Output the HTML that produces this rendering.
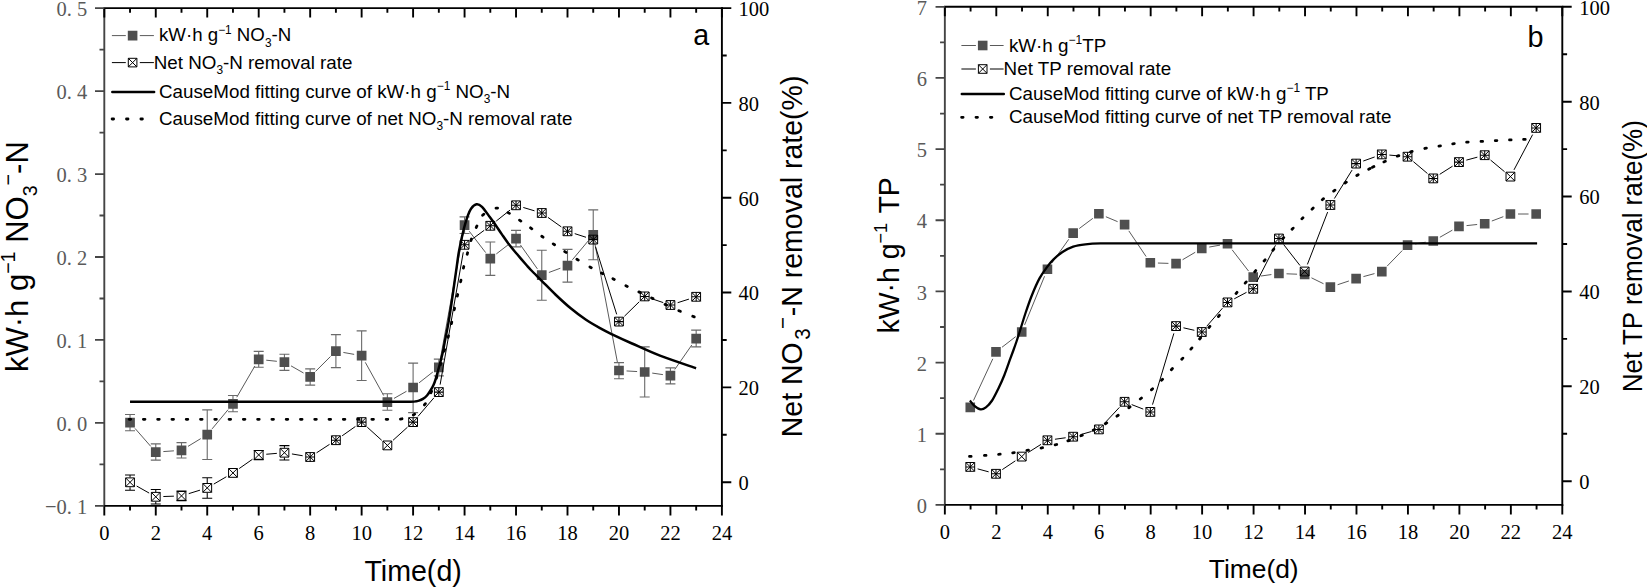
<!DOCTYPE html>
<html lang="en">
<head>
<meta charset="utf-8">
<title>CauseMod fitting curves</title>
<style>
html,body{margin:0;padding:0;background:#fff;}
body{width:1647px;height:588px;overflow:hidden;}
svg text{white-space:pre;}
</style>
</head>
<body>
<svg width="1647" height="588" viewBox="0 0 1647 588" style="display:block">
<rect x="0" y="0" width="1647" height="588" fill="#fff"/>
<g id="panel-a">
<path d="M103.4,8.1 H722.85" stroke="#000" stroke-width="1.9" fill="none"/>
<path d="M103.4,505.9 H722.85" stroke="#000" stroke-width="1.9" fill="none"/>
<path d="M721.9,7.2 V506.8" stroke="#000" stroke-width="1.9" fill="none"/>
<path d="M104.3,9 V505" stroke="#454545" stroke-width="1.9" fill="none"/>
<path d="M104.3,505.9 v9.5 M104.3,8.1 v9.5 M130.03,505.9 v4.6 M130.03,8.1 v4.6 M155.77,505.9 v9.5 M155.77,8.1 v9.5 M181.5,505.9 v4.6 M181.5,8.1 v4.6 M207.23,505.9 v9.5 M207.23,8.1 v9.5 M232.97,505.9 v4.6 M232.97,8.1 v4.6 M258.7,505.9 v9.5 M258.7,8.1 v9.5 M284.43,505.9 v4.6 M284.43,8.1 v4.6 M310.17,505.9 v9.5 M310.17,8.1 v9.5 M335.9,505.9 v4.6 M335.9,8.1 v4.6 M361.63,505.9 v9.5 M361.63,8.1 v9.5 M387.37,505.9 v4.6 M387.37,8.1 v4.6 M413.1,505.9 v9.5 M413.1,8.1 v9.5 M438.83,505.9 v4.6 M438.83,8.1 v4.6 M464.57,505.9 v9.5 M464.57,8.1 v9.5 M490.3,505.9 v4.6 M490.3,8.1 v4.6 M516.03,505.9 v9.5 M516.03,8.1 v9.5 M541.77,505.9 v4.6 M541.77,8.1 v4.6 M567.5,505.9 v9.5 M567.5,8.1 v9.5 M593.23,505.9 v4.6 M593.23,8.1 v4.6 M618.97,505.9 v9.5 M618.97,8.1 v9.5 M644.7,505.9 v4.6 M644.7,8.1 v4.6 M670.43,505.9 v9.5 M670.43,8.1 v9.5 M696.17,505.9 v4.6 M696.17,8.1 v4.6 M721.9,505.9 v9.5 M721.9,8.1 v9.5" stroke="#000" stroke-width="1.9" fill="none"/>
<text x="104.3" y="540.5" font-family='"Liberation Serif", "Times New Roman", serif' font-size="20.5" fill="#000" text-anchor="middle" transform="translate(0,540.5) scale(1,1.07) translate(0,-540.5)">0</text>
<text x="155.77" y="540.5" font-family='"Liberation Serif", "Times New Roman", serif' font-size="20.5" fill="#000" text-anchor="middle" transform="translate(0,540.5) scale(1,1.07) translate(0,-540.5)">2</text>
<text x="207.23" y="540.5" font-family='"Liberation Serif", "Times New Roman", serif' font-size="20.5" fill="#000" text-anchor="middle" transform="translate(0,540.5) scale(1,1.07) translate(0,-540.5)">4</text>
<text x="258.7" y="540.5" font-family='"Liberation Serif", "Times New Roman", serif' font-size="20.5" fill="#000" text-anchor="middle" transform="translate(0,540.5) scale(1,1.07) translate(0,-540.5)">6</text>
<text x="310.17" y="540.5" font-family='"Liberation Serif", "Times New Roman", serif' font-size="20.5" fill="#000" text-anchor="middle" transform="translate(0,540.5) scale(1,1.07) translate(0,-540.5)">8</text>
<text x="361.63" y="540.5" font-family='"Liberation Serif", "Times New Roman", serif' font-size="20.5" fill="#000" text-anchor="middle" transform="translate(0,540.5) scale(1,1.07) translate(0,-540.5)">10</text>
<text x="413.1" y="540.5" font-family='"Liberation Serif", "Times New Roman", serif' font-size="20.5" fill="#000" text-anchor="middle" transform="translate(0,540.5) scale(1,1.07) translate(0,-540.5)">12</text>
<text x="464.57" y="540.5" font-family='"Liberation Serif", "Times New Roman", serif' font-size="20.5" fill="#000" text-anchor="middle" transform="translate(0,540.5) scale(1,1.07) translate(0,-540.5)">14</text>
<text x="516.03" y="540.5" font-family='"Liberation Serif", "Times New Roman", serif' font-size="20.5" fill="#000" text-anchor="middle" transform="translate(0,540.5) scale(1,1.07) translate(0,-540.5)">16</text>
<text x="567.5" y="540.5" font-family='"Liberation Serif", "Times New Roman", serif' font-size="20.5" fill="#000" text-anchor="middle" transform="translate(0,540.5) scale(1,1.07) translate(0,-540.5)">18</text>
<text x="618.97" y="540.5" font-family='"Liberation Serif", "Times New Roman", serif' font-size="20.5" fill="#000" text-anchor="middle" transform="translate(0,540.5) scale(1,1.07) translate(0,-540.5)">20</text>
<text x="670.43" y="540.5" font-family='"Liberation Serif", "Times New Roman", serif' font-size="20.5" fill="#000" text-anchor="middle" transform="translate(0,540.5) scale(1,1.07) translate(0,-540.5)">22</text>
<text x="721.9" y="540.5" font-family='"Liberation Serif", "Times New Roman", serif' font-size="20.5" fill="#000" text-anchor="middle" transform="translate(0,540.5) scale(1,1.07) translate(0,-540.5)">24</text>
<path d="M104.3,505.9 h-9.3 M104.3,422.93 h-9.3 M104.3,339.97 h-9.3 M104.3,257 h-9.3 M104.3,174.03 h-9.3 M104.3,91.07 h-9.3 M104.3,8.1 h-9.3 M104.3,464.42 h-4.8 M104.3,381.45 h-4.8 M104.3,298.48 h-4.8 M104.3,215.52 h-4.8 M104.3,132.55 h-4.8 M104.3,49.58 h-4.8" stroke="#454545" stroke-width="1.8" fill="none"/>
<text x="87.2" y="514" font-family='"Liberation Serif", "Times New Roman", serif' font-size="20.5" fill="#5a5a5a" text-anchor="end" dx="0 0 0 5.125" transform="translate(0,514) scale(1,1.07) translate(0,-514)">−0.1</text>
<text x="87.2" y="431.03" font-family='"Liberation Serif", "Times New Roman", serif' font-size="20.5" fill="#5a5a5a" text-anchor="end" dx="0 0 5.125" transform="translate(0,431.03) scale(1,1.07) translate(0,-431.03)">0.0</text>
<text x="87.2" y="348.07" font-family='"Liberation Serif", "Times New Roman", serif' font-size="20.5" fill="#5a5a5a" text-anchor="end" dx="0 0 5.125" transform="translate(0,348.07) scale(1,1.07) translate(0,-348.07)">0.1</text>
<text x="87.2" y="265.1" font-family='"Liberation Serif", "Times New Roman", serif' font-size="20.5" fill="#5a5a5a" text-anchor="end" dx="0 0 5.125" transform="translate(0,265.1) scale(1,1.07) translate(0,-265.1)">0.2</text>
<text x="87.2" y="182.13" font-family='"Liberation Serif", "Times New Roman", serif' font-size="20.5" fill="#5a5a5a" text-anchor="end" dx="0 0 5.125" transform="translate(0,182.13) scale(1,1.07) translate(0,-182.13)">0.3</text>
<text x="87.2" y="99.17" font-family='"Liberation Serif", "Times New Roman", serif' font-size="20.5" fill="#5a5a5a" text-anchor="end" dx="0 0 5.125" transform="translate(0,99.17) scale(1,1.07) translate(0,-99.17)">0.4</text>
<text x="87.2" y="16.2" font-family='"Liberation Serif", "Times New Roman", serif' font-size="20.5" fill="#5a5a5a" text-anchor="end" dx="0 0 5.125" transform="translate(0,16.2) scale(1,1.07) translate(0,-16.2)">0.5</text>
<path d="M721.9,482.2 h9.4 M721.9,434.79 h4.8 M721.9,387.38 h9.4 M721.9,339.97 h4.8 M721.9,292.56 h9.4 M721.9,245.15 h4.8 M721.9,197.74 h9.4 M721.9,150.33 h4.8 M721.9,102.92 h9.4 M721.9,55.51 h4.8 M721.9,8.1 h9.4" stroke="#000" stroke-width="1.9" fill="none"/>
<text x="738.6" y="490.1" font-family='"Liberation Serif", "Times New Roman", serif' font-size="20.5" fill="#000" text-anchor="start" transform="translate(0,490.1) scale(1,1.07) translate(0,-490.1)">0</text>
<text x="738.6" y="395.28" font-family='"Liberation Serif", "Times New Roman", serif' font-size="20.5" fill="#000" text-anchor="start" transform="translate(0,395.28) scale(1,1.07) translate(0,-395.28)">20</text>
<text x="738.6" y="300.46" font-family='"Liberation Serif", "Times New Roman", serif' font-size="20.5" fill="#000" text-anchor="start" transform="translate(0,300.46) scale(1,1.07) translate(0,-300.46)">40</text>
<text x="738.6" y="205.64" font-family='"Liberation Serif", "Times New Roman", serif' font-size="20.5" fill="#000" text-anchor="start" transform="translate(0,205.64) scale(1,1.07) translate(0,-205.64)">60</text>
<text x="738.6" y="110.82" font-family='"Liberation Serif", "Times New Roman", serif' font-size="20.5" fill="#000" text-anchor="start" transform="translate(0,110.82) scale(1,1.07) translate(0,-110.82)">80</text>
<text x="738.6" y="16" font-family='"Liberation Serif", "Times New Roman", serif' font-size="20.5" fill="#000" text-anchor="start" transform="translate(0,16) scale(1,1.07) translate(0,-16)">100</text>
<path d="M135.04,428.42 L150.76,446.38 M163.35,451.57 L173.92,450.83 M188,446.36 L200.73,438.64 M212.1,428.86 L228.1,409.64 M236.78,397.22 L254.89,365.98 M266.26,360.19 L276.87,361.31 M291.03,365.87 L303.57,373.03 M315.54,371.43 L330.52,356.47 M343.38,352.44 L354.15,354.36 M365.31,362.35 L383.69,395.55 M393.97,398.43 L406.5,391.27 M419.08,382.81 L432.86,371.99 M440.19,359.82 L463.21,232.68 M469.21,231.22 L485.66,252.58 M496.31,253.95 L510.02,243.35 M520.42,244.91 L537.38,268.89 M548.9,272.47 L560.37,268.23 M572.38,259.78 L588.35,240.72 M594.65,242.37 L617.55,363.03 M626.55,370.94 L637.11,371.56 M652.22,373.08 L662.91,374.62 M674.77,369.46 L691.83,344.94" fill="none" stroke="#5a5a5a" stroke-width="1.0"/>
<path d="M130.03,414.5 V430.7 M125.03,414.5 H135.03 M125.03,430.7 H135.03 M155.77,443.9 V460.1 M150.77,443.9 H160.77 M150.77,460.1 H160.77 M181.5,442.6 V458 M176.5,442.6 H186.5 M176.5,458 H186.5 M207.23,409.9 V459.5 M202.23,409.9 H212.23 M202.23,459.5 H212.23 M232.97,395.5 V411.7 M227.97,395.5 H237.97 M227.97,411.7 H237.97 M258.7,351.4 V367.3 M253.7,351.4 H263.7 M253.7,367.3 H263.7 M284.43,354.2 V370.4 M279.43,354.2 H289.43 M279.43,370.4 H289.43 M310.17,368.9 V385.1 M305.17,368.9 H315.17 M305.17,385.1 H315.17 M335.9,334.6 V367.6 M330.9,334.6 H340.9 M330.9,367.6 H340.9 M361.63,330.9 V380.5 M356.63,330.9 H366.63 M356.63,380.5 H366.63 M387.37,393.7 V410.2 M382.37,393.7 H392.37 M382.37,410.2 H392.37 M413.1,363.1 V412.6 M408.1,363.1 H418.1 M408.1,412.6 H418.1 M438.83,359.1 V375.9 M433.83,359.1 H443.83 M433.83,375.9 H443.83 M464.57,216.9 V233.5 M459.57,216.9 H469.57 M459.57,233.5 H469.57 M490.3,242 V275.4 M485.3,242 H495.3 M485.3,275.4 H495.3 M516.03,230.4 V246.9 M511.03,230.4 H521.03 M511.03,246.9 H521.03 M541.77,250.3 V300.2 M536.77,250.3 H546.77 M536.77,300.2 H546.77 M567.5,249.4 V282.1 M562.5,249.4 H572.5 M562.5,282.1 H572.5 M593.23,209.9 V259.8 M588.23,209.9 H598.23 M588.23,259.8 H598.23 M618.97,362.6 V378.7 M613.97,362.6 H623.97 M613.97,378.7 H623.97 M644.7,346.9 V397 M639.7,346.9 H649.7 M639.7,397 H649.7 M670.43,367.9 V383.9 M665.43,367.9 H675.43 M665.43,383.9 H675.43 M696.17,330.1 V346.9 M691.17,330.1 H701.17 M691.17,346.9 H701.17" fill="none" stroke="#6a6a6a" stroke-width="1.1"/>
<path d="M125.18,417.85 h9.7 v9.7 h-9.7 z M150.92,447.25 h9.7 v9.7 h-9.7 z M176.65,445.45 h9.7 v9.7 h-9.7 z M202.38,429.85 h9.7 v9.7 h-9.7 z M228.12,398.95 h9.7 v9.7 h-9.7 z M253.85,354.55 h9.7 v9.7 h-9.7 z M279.58,357.25 h9.7 v9.7 h-9.7 z M305.32,371.95 h9.7 v9.7 h-9.7 z M331.05,346.25 h9.7 v9.7 h-9.7 z M356.78,350.85 h9.7 v9.7 h-9.7 z M382.52,397.35 h9.7 v9.7 h-9.7 z M408.25,382.65 h9.7 v9.7 h-9.7 z M433.98,362.45 h9.7 v9.7 h-9.7 z M459.72,220.35 h9.7 v9.7 h-9.7 z M485.45,253.75 h9.7 v9.7 h-9.7 z M511.18,233.85 h9.7 v9.7 h-9.7 z M536.92,270.25 h9.7 v9.7 h-9.7 z M562.65,260.75 h9.7 v9.7 h-9.7 z M588.38,230.05 h9.7 v9.7 h-9.7 z M614.12,365.65 h9.7 v9.7 h-9.7 z M639.85,367.15 h9.7 v9.7 h-9.7 z M665.58,370.85 h9.7 v9.7 h-9.7 z M691.32,333.85 h9.7 v9.7 h-9.7 z" fill="#4f4f4f" stroke="none"/>
<path d="M136.65,486.03 L149.15,493.07 M163.36,496.53 L173.9,496.17 M188.76,493.64 L199.98,490.16 M213.8,484.07 L226.4,476.73 M239.19,468.54 L252.47,459.26 M266.27,454.25 L276.86,453.35 M291.93,453.95 L302.67,455.75 M316.53,452.85 L329.54,444.35 M342.12,435.83 L355.42,426.47 M367.27,427.2 L381.73,440.3 M393,440.3 L407.47,427.2 M418.05,416.33 L433.89,397.87 M440.14,384.61 L463.26,252.29 M470.68,240.29 L484.19,230.31 M496.24,221.06 L510.09,210.04 M523.31,207.48 L534.49,210.82 M547.96,217.4 L561.31,226.9 M574.73,233.63 L586,237.27 M595.51,246.85 L616.69,314.35 M624.4,316.28 L639.27,301.72 M651.91,298.81 L663.23,302.59 M677.67,302.69 L688.93,299.11" fill="none" stroke="#000" stroke-width="1.0"/>
<path d="M130.03,475 V477.4 M130.03,487.2 V490.2 M125.03,475 H135.03 M125.03,490.2 H135.03 M155.77,489.5 V491.9 M155.77,501.7 V503.9 M150.77,489.5 H160.77 M150.77,503.9 H160.77 M176.5,491 H186.5 M176.5,500.6 H186.5 M207.23,477.8 V483 M207.23,492.8 V498.2 M202.23,477.8 H212.23 M202.23,498.2 H212.23 M253.7,450.4 H263.7 M253.7,459.6 H263.7 M284.43,445.6 V447.8 M284.43,457.6 V460 M279.43,445.6 H289.43 M279.43,460 H289.43" fill="none" stroke="#000" stroke-width="1.05"/>
<path d="M125.63,477.9 h8.8 v8.8 h-8.8 z M151.37,492.4 h8.8 v8.8 h-8.8 z M177.1,491.5 h8.8 v8.8 h-8.8 z M202.83,483.5 h8.8 v8.8 h-8.8 z M228.57,468.5 h8.8 v8.8 h-8.8 z M254.3,450.5 h8.8 v8.8 h-8.8 z M280.03,448.3 h8.8 v8.8 h-8.8 z M305.77,452.6 h8.8 v8.8 h-8.8 z M331.5,435.8 h8.8 v8.8 h-8.8 z M357.23,417.7 h8.8 v8.8 h-8.8 z M382.97,441 h8.8 v8.8 h-8.8 z M408.7,417.7 h8.8 v8.8 h-8.8 z M434.43,387.7 h8.8 v8.8 h-8.8 z M460.17,240.4 h8.8 v8.8 h-8.8 z M485.9,221.4 h8.8 v8.8 h-8.8 z M511.63,200.9 h8.8 v8.8 h-8.8 z M537.37,208.6 h8.8 v8.8 h-8.8 z M563.1,226.9 h8.8 v8.8 h-8.8 z M588.83,235.2 h8.8 v8.8 h-8.8 z M614.57,317.2 h8.8 v8.8 h-8.8 z M640.3,292 h8.8 v8.8 h-8.8 z M666.03,300.6 h8.8 v8.8 h-8.8 z M691.77,292.4 h8.8 v8.8 h-8.8 z" fill="none" stroke="#000" stroke-width="1"/>
<path d="M125.63,477.9 L134.43,486.7 M125.63,486.7 L134.43,477.9 M151.37,492.4 L160.17,501.2 M151.37,501.2 L160.17,492.4 M177.1,491.5 L185.9,500.3 M177.1,500.3 L185.9,491.5 M202.83,483.5 L211.63,492.3 M202.83,492.3 L211.63,483.5 M228.57,468.5 L237.37,477.3 M228.57,477.3 L237.37,468.5 M254.3,450.5 L263.1,459.3 M254.3,459.3 L263.1,450.5 M280.03,448.3 L288.83,457.1 M280.03,457.1 L288.83,448.3 M305.77,452.6 L314.57,461.4 M305.77,461.4 L314.57,452.6 M331.5,435.8 L340.3,444.6 M331.5,444.6 L340.3,435.8 M357.23,417.7 L366.03,426.5 M357.23,426.5 L366.03,417.7 M382.97,441 L391.77,449.8 M382.97,449.8 L391.77,441 M408.7,417.7 L417.5,426.5 M408.7,426.5 L417.5,417.7 M434.43,387.7 L443.23,396.5 M434.43,396.5 L443.23,387.7 M460.17,240.4 L468.97,249.2 M460.17,249.2 L468.97,240.4 M485.9,221.4 L494.7,230.2 M485.9,230.2 L494.7,221.4 M511.63,200.9 L520.43,209.7 M511.63,209.7 L520.43,200.9 M537.37,208.6 L546.17,217.4 M537.37,217.4 L546.17,208.6 M563.1,226.9 L571.9,235.7 M563.1,235.7 L571.9,226.9 M588.83,235.2 L597.63,244 M588.83,244 L597.63,235.2 M614.57,317.2 L623.37,326 M614.57,326 L623.37,317.2 M640.3,292 L649.1,300.8 M640.3,300.8 L649.1,292 M666.03,300.6 L674.83,309.4 M666.03,309.4 L674.83,300.6 M691.77,292.4 L700.57,301.2 M691.77,301.2 L700.57,292.4" fill="none" stroke="#000" stroke-width="1"/>
<path d="M305.77,457 H314.57 M310.17,452.6 V461.4 M331.5,440.2 H340.3 M335.9,435.8 V444.6 M357.23,422.1 H366.03 M361.63,417.7 V426.5 M408.7,422.1 H417.5 M413.1,417.7 V426.5 M434.43,392.1 H443.23 M438.83,387.7 V396.5 M460.17,244.8 H468.97 M464.57,240.4 V249.2 M485.9,225.8 H494.7 M490.3,221.4 V230.2 M511.63,205.3 H520.43 M516.03,200.9 V209.7 M537.37,213 H546.17 M541.77,208.6 V217.4 M563.1,231.3 H571.9 M567.5,226.9 V235.7 M588.83,239.6 H597.63 M593.23,235.2 V244 M614.57,321.6 H623.37 M618.97,317.2 V326 M640.3,296.4 H649.1 M644.7,292 V300.8 M666.03,305 H674.83 M670.43,300.6 V309.4 M691.77,296.8 H700.57 M696.17,292.4 V301.2" fill="none" stroke="#000" stroke-width="1.05"/>
<path d="M129.1,419.3 L130.7,419.3 M143.38,419.3 L144.98,419.3 M157.66,419.3 L159.26,419.3 M171.94,419.3 L173.54,419.3 M186.22,419.3 L187.82,419.3 M200.5,419.3 L202.1,419.3 M214.78,419.3 L216.38,419.3 M229.06,419.3 L230.66,419.3 M243.34,419.3 L244.94,419.3 M257.62,419.3 L259.22,419.3 M271.9,419.3 L273.5,419.3 M286.18,419.3 L287.78,419.3 M300.46,419.3 L302.06,419.3 M314.74,419.3 L316.34,419.3 M329.02,419.3 L330.62,419.3 M343.3,419.3 L344.9,419.3 M357.58,419.3 L359.18,419.3 M371.86,419.3 L373.46,419.3 M386.14,419.31 L387.74,419.29 M400.41,419.04 L401.99,418.76 M413.32,415.02 L414.68,414.18 M424.41,404.94 L425.39,403.66 M430.98,392.73 L431.62,391.27 M436.35,378.26 L436.85,376.74 M440.38,364.77 L440.82,363.23 M444.18,351.17 L444.62,349.63 M448.1,337.37 L448.5,335.83 M451.43,323.58 L451.77,322.02 M454.23,309.78 L454.57,308.22 M457.32,296.08 L457.68,294.52 M460.63,281.78 L460.97,280.22 M463.41,268.08 L463.79,266.52 M467.19,254.27 L467.61,252.73 M470.94,240.56 L471.46,239.04 M476.25,227.42 L476.95,225.98 M482.61,215.34 L483.79,214.26 M496,208.16 L497.6,208.04 M507.99,212.62 L509.41,213.38 M519.54,220.15 L520.86,221.05 M530.55,227.83 L531.85,228.77 M541.75,236.24 L543.05,237.16 M553.23,243.86 L554.57,244.74 M564.73,251.56 L566.07,252.44 M576.92,259.28 L578.28,260.12 M589.9,266.91 L591.3,267.69 M601.39,273.03 L602.81,273.77 M612.89,278.73 L614.31,279.47 M625.89,285.74 L627.31,286.46 M638.88,291.86 L640.32,292.54 M651.58,297.96 L653.02,298.64 M665.07,304.36 L666.53,305.04 M678.86,310.68 L680.34,311.32 M692.76,316.3 L694.24,316.9" fill="none" stroke="#000" stroke-width="2.8" stroke-linecap="round"/>
<path d="M130.03,401.7 C150.03,401.7 208.34,401.7 250,401.7 C291.66,401.7 353.23,401.7 380,401.7 C406.77,401.7 404.73,401.75 410.6,401.7 C416.47,401.65 413.8,401.58 415.2,401.4 C416.6,401.22 417.72,401.02 419,400.6 C420.28,400.18 421.57,399.75 422.9,398.9 C424.23,398.05 425.73,396.9 427,395.5 C428.27,394.1 429.42,392.25 430.5,390.5 C431.58,388.75 432.6,387.03 433.5,385 C434.4,382.97 434.87,381.72 435.9,378.3 C436.93,374.88 438.55,368.85 439.7,364.5 C440.85,360.15 441.9,356.28 442.8,352.2 C443.7,348.12 444.18,344.77 445.1,340 C446.02,335.23 447.25,329.6 448.3,323.6 C449.35,317.6 450.38,310.77 451.4,304 C452.42,297.23 453.52,289.17 454.4,283 C455.28,276.83 455.93,272.3 456.7,267 C457.47,261.7 457.85,257.4 459,251.2 C460.15,245 462.2,235.53 463.6,229.8 C465,224.07 466.13,220.37 467.4,216.8 C468.67,213.23 469.67,210.5 471.2,208.4 C472.73,206.3 474.8,204.47 476.6,204.2 C478.4,203.93 479.83,204.7 482,206.8 C484.17,208.9 487.32,213.73 489.6,216.8 C491.88,219.87 493.65,222.27 495.7,225.2 C497.75,228.13 499.6,231.08 501.9,234.4 C504.2,237.72 506.95,241.78 509.5,245.1 C512.05,248.42 514.38,250.98 517.2,254.3 C520.02,257.62 524.12,262.38 526.4,265 C528.68,267.62 528.35,267.37 530.9,270 C533.45,272.63 537.62,276.72 541.7,280.8 C545.78,284.88 550.57,289.92 555.4,294.5 C560.23,299.08 565.6,304.08 570.7,308.3 C575.8,312.52 580.88,316.37 586,319.8 C591.12,323.23 597.05,326.48 601.4,328.9 C605.75,331.32 607,331.87 612.1,334.3 C617.2,336.73 624.02,339.93 632,343.5 C639.98,347.07 649.32,351.58 660,355.7 C670.68,359.82 690.08,366.12 696.1,368.2" fill="none" stroke="#000" stroke-width="2.5" stroke-linejoin="round"/>
<path d="M111.9,35.6 H125.8 M139.8,35.6 H153.9" stroke="#5a5a5a" stroke-width="1" fill="none"/>
<path d="M127.8,30.8 h9.6 v9.6 h-9.6 z" fill="#4f4f4f" stroke="none"/>
<path d="M111.9,62.6 H125.8 M139.8,62.6 H153.9" stroke="#000" stroke-width="1" fill="none"/>
<path d="M128.3,58.3 h8.6 v8.6 h-8.6 z" fill="none" stroke="#000" stroke-width="1"/>
<path d="M128.3,58.3 L136.9,66.9 M128.3,66.9 L136.9,58.3" fill="none" stroke="#000" stroke-width="1"/>
<path d="M112.3,92 H154.1" stroke="#000" stroke-width="2.5" stroke-linecap="round" fill="none"/>
<path d="M112.1,119 h1.5 M126.5,119 h1.5 M140.9,119 h1.5" stroke="#000" stroke-width="2.8" stroke-linecap="round" fill="none"/>
<text x="159" y="41.4" font-family='"Liberation Sans", Arial, Helvetica, sans-serif' font-size="18.9" fill="#000" text-anchor="start" textLength="132.2" lengthAdjust="spacingAndGlyphs">kW·h g<tspan font-size="12" dy="-7.75">−1</tspan><tspan font-size="18.9" dy="7.75">&#8203;</tspan> NO<tspan font-size="12" dy="5.29">3</tspan><tspan font-size="18.9" dy="-5.29">&#8203;</tspan>-N</text>
<text x="153.8" y="68.7" font-family='"Liberation Sans", Arial, Helvetica, sans-serif' font-size="18.9" fill="#000" text-anchor="start" textLength="198.6" lengthAdjust="spacingAndGlyphs">Net NO<tspan font-size="12" dy="5.29">3</tspan><tspan font-size="18.9" dy="-5.29">&#8203;</tspan>-N removal rate</text>
<text x="159" y="98" font-family='"Liberation Sans", Arial, Helvetica, sans-serif' font-size="18.9" fill="#000" text-anchor="start" textLength="351.2" lengthAdjust="spacingAndGlyphs">CauseMod fitting curve of kW·h g<tspan font-size="12" dy="-7.75">−1</tspan><tspan font-size="18.9" dy="7.75">&#8203;</tspan> NO<tspan font-size="12" dy="5.29">3</tspan><tspan font-size="18.9" dy="-5.29">&#8203;</tspan>-N</text>
<text x="159" y="124.7" font-family='"Liberation Sans", Arial, Helvetica, sans-serif' font-size="18.9" fill="#000" text-anchor="start" textLength="413.4" lengthAdjust="spacingAndGlyphs">CauseMod fitting curve of net NO<tspan font-size="12" dy="5.29">3</tspan><tspan font-size="18.9" dy="-5.29">&#8203;</tspan>-N removal rate</text>
<text x="693.2" y="44.7" font-family='"Liberation Sans", Arial, Helvetica, sans-serif' font-size="28.6" fill="#000" text-anchor="start" >a</text>
<text x="413.1" y="581.3" font-family='"Liberation Sans", Arial, Helvetica, sans-serif' font-size="28.6" fill="#000" text-anchor="middle" >Time(d)</text>
<g transform="translate(28,372) rotate(-90) scale(1,1.04)">
<text x="0" y="0" font-family='"Liberation Sans", Arial, Helvetica, sans-serif' font-size="31" fill="#000" text-anchor="start" >kW·h g<tspan font-size="19.68" dy="-12.71">−1</tspan><tspan font-size="31" dy="12.71">&#8203;</tspan> NO<tspan font-size="19.68" dy="8.68">3</tspan><tspan font-size="31" dy="-8.68">&#8203;</tspan><tspan font-size="19.68" dy="-12.71">−</tspan><tspan font-size="31" dy="12.71">&#8203;</tspan>-N</text>
</g>
<g transform="translate(802,437.2) rotate(-90) scale(1,1.04)">
<text x="0" y="0" font-family='"Liberation Sans", Arial, Helvetica, sans-serif' font-size="28.5" fill="#000" text-anchor="start" >Net NO<tspan x="97.4" font-size="20.52" dy="7.98">3</tspan><tspan x="108.1" font-size="20.52" dy="-19.1">−</tspan><tspan x="121.0" font-size="28.5" dy="11.12">-N removal rate(%)</tspan></text>
</g>
</g>
<g id="panel-b">
<path d="M943.95,6.8 H1563.25" stroke="#000" stroke-width="1.9" fill="none"/>
<path d="M943.95,504.9 H1563.25" stroke="#000" stroke-width="1.9" fill="none"/>
<path d="M1562.3,5.9 V505.8" stroke="#000" stroke-width="1.9" fill="none"/>
<path d="M944.85,7.7 V504" stroke="#454545" stroke-width="1.9" fill="none"/>
<path d="M944.85,504.9 v9.5 M944.85,6.8 v9.5 M970.58,504.9 v4.6 M970.58,6.8 v4.6 M996.3,504.9 v9.5 M996.3,6.8 v9.5 M1022.03,504.9 v4.6 M1022.03,6.8 v4.6 M1047.76,504.9 v9.5 M1047.76,6.8 v9.5 M1073.49,504.9 v4.6 M1073.49,6.8 v4.6 M1099.21,504.9 v9.5 M1099.21,6.8 v9.5 M1124.94,504.9 v4.6 M1124.94,6.8 v4.6 M1150.67,504.9 v9.5 M1150.67,6.8 v9.5 M1176.39,504.9 v4.6 M1176.39,6.8 v4.6 M1202.12,504.9 v9.5 M1202.12,6.8 v9.5 M1227.85,504.9 v4.6 M1227.85,6.8 v4.6 M1253.58,504.9 v9.5 M1253.58,6.8 v9.5 M1279.3,504.9 v4.6 M1279.3,6.8 v4.6 M1305.03,504.9 v9.5 M1305.03,6.8 v9.5 M1330.76,504.9 v4.6 M1330.76,6.8 v4.6 M1356.48,504.9 v9.5 M1356.48,6.8 v9.5 M1382.21,504.9 v4.6 M1382.21,6.8 v4.6 M1407.94,504.9 v9.5 M1407.94,6.8 v9.5 M1433.66,504.9 v4.6 M1433.66,6.8 v4.6 M1459.39,504.9 v9.5 M1459.39,6.8 v9.5 M1485.12,504.9 v4.6 M1485.12,6.8 v4.6 M1510.85,504.9 v9.5 M1510.85,6.8 v9.5 M1536.57,504.9 v4.6 M1536.57,6.8 v4.6 M1562.3,504.9 v9.5 M1562.3,6.8 v9.5" stroke="#000" stroke-width="1.9" fill="none"/>
<text x="944.85" y="539.5" font-family='"Liberation Serif", "Times New Roman", serif' font-size="20.5" fill="#000" text-anchor="middle" transform="translate(0,539.5) scale(1,1.07) translate(0,-539.5)">0</text>
<text x="996.3" y="539.5" font-family='"Liberation Serif", "Times New Roman", serif' font-size="20.5" fill="#000" text-anchor="middle" transform="translate(0,539.5) scale(1,1.07) translate(0,-539.5)">2</text>
<text x="1047.76" y="539.5" font-family='"Liberation Serif", "Times New Roman", serif' font-size="20.5" fill="#000" text-anchor="middle" transform="translate(0,539.5) scale(1,1.07) translate(0,-539.5)">4</text>
<text x="1099.21" y="539.5" font-family='"Liberation Serif", "Times New Roman", serif' font-size="20.5" fill="#000" text-anchor="middle" transform="translate(0,539.5) scale(1,1.07) translate(0,-539.5)">6</text>
<text x="1150.67" y="539.5" font-family='"Liberation Serif", "Times New Roman", serif' font-size="20.5" fill="#000" text-anchor="middle" transform="translate(0,539.5) scale(1,1.07) translate(0,-539.5)">8</text>
<text x="1202.12" y="539.5" font-family='"Liberation Serif", "Times New Roman", serif' font-size="20.5" fill="#000" text-anchor="middle" transform="translate(0,539.5) scale(1,1.07) translate(0,-539.5)">10</text>
<text x="1253.58" y="539.5" font-family='"Liberation Serif", "Times New Roman", serif' font-size="20.5" fill="#000" text-anchor="middle" transform="translate(0,539.5) scale(1,1.07) translate(0,-539.5)">12</text>
<text x="1305.03" y="539.5" font-family='"Liberation Serif", "Times New Roman", serif' font-size="20.5" fill="#000" text-anchor="middle" transform="translate(0,539.5) scale(1,1.07) translate(0,-539.5)">14</text>
<text x="1356.48" y="539.5" font-family='"Liberation Serif", "Times New Roman", serif' font-size="20.5" fill="#000" text-anchor="middle" transform="translate(0,539.5) scale(1,1.07) translate(0,-539.5)">16</text>
<text x="1407.94" y="539.5" font-family='"Liberation Serif", "Times New Roman", serif' font-size="20.5" fill="#000" text-anchor="middle" transform="translate(0,539.5) scale(1,1.07) translate(0,-539.5)">18</text>
<text x="1459.39" y="539.5" font-family='"Liberation Serif", "Times New Roman", serif' font-size="20.5" fill="#000" text-anchor="middle" transform="translate(0,539.5) scale(1,1.07) translate(0,-539.5)">20</text>
<text x="1510.85" y="539.5" font-family='"Liberation Serif", "Times New Roman", serif' font-size="20.5" fill="#000" text-anchor="middle" transform="translate(0,539.5) scale(1,1.07) translate(0,-539.5)">22</text>
<text x="1562.3" y="539.5" font-family='"Liberation Serif", "Times New Roman", serif' font-size="20.5" fill="#000" text-anchor="middle" transform="translate(0,539.5) scale(1,1.07) translate(0,-539.5)">24</text>
<path d="M944.85,504.9 h-9.3 M944.85,433.74 h-9.3 M944.85,362.59 h-9.3 M944.85,291.43 h-9.3 M944.85,220.27 h-9.3 M944.85,149.11 h-9.3 M944.85,77.96 h-9.3 M944.85,6.8 h-9.3 M944.85,469.32 h-4.8 M944.85,398.16 h-4.8 M944.85,327.01 h-4.8 M944.85,255.85 h-4.8 M944.85,184.69 h-4.8 M944.85,113.54 h-4.8 M944.85,42.38 h-4.8" stroke="#454545" stroke-width="1.8" fill="none"/>
<text x="927" y="513" font-family='"Liberation Serif", "Times New Roman", serif' font-size="20.5" fill="#5a5a5a" text-anchor="end" transform="translate(0,513) scale(1,1.07) translate(0,-513)">0</text>
<text x="927" y="441.84" font-family='"Liberation Serif", "Times New Roman", serif' font-size="20.5" fill="#5a5a5a" text-anchor="end" transform="translate(0,441.84) scale(1,1.07) translate(0,-441.84)">1</text>
<text x="927" y="370.69" font-family='"Liberation Serif", "Times New Roman", serif' font-size="20.5" fill="#5a5a5a" text-anchor="end" transform="translate(0,370.69) scale(1,1.07) translate(0,-370.69)">2</text>
<text x="927" y="299.53" font-family='"Liberation Serif", "Times New Roman", serif' font-size="20.5" fill="#5a5a5a" text-anchor="end" transform="translate(0,299.53) scale(1,1.07) translate(0,-299.53)">3</text>
<text x="927" y="228.37" font-family='"Liberation Serif", "Times New Roman", serif' font-size="20.5" fill="#5a5a5a" text-anchor="end" transform="translate(0,228.37) scale(1,1.07) translate(0,-228.37)">4</text>
<text x="927" y="157.21" font-family='"Liberation Serif", "Times New Roman", serif' font-size="20.5" fill="#5a5a5a" text-anchor="end" transform="translate(0,157.21) scale(1,1.07) translate(0,-157.21)">5</text>
<text x="927" y="86.06" font-family='"Liberation Serif", "Times New Roman", serif' font-size="20.5" fill="#5a5a5a" text-anchor="end" transform="translate(0,86.06) scale(1,1.07) translate(0,-86.06)">6</text>
<text x="927" y="14.9" font-family='"Liberation Serif", "Times New Roman", serif' font-size="20.5" fill="#5a5a5a" text-anchor="end" transform="translate(0,14.9) scale(1,1.07) translate(0,-14.9)">7</text>
<path d="M1562.3,481.18 h9.4 M1562.3,433.74 h4.8 M1562.3,386.3 h9.4 M1562.3,338.87 h4.8 M1562.3,291.43 h9.4 M1562.3,243.99 h4.8 M1562.3,196.55 h9.4 M1562.3,149.11 h4.8 M1562.3,101.68 h9.4 M1562.3,54.24 h4.8 M1562.3,6.8 h9.4" stroke="#000" stroke-width="1.9" fill="none"/>
<text x="1579.2" y="489.08" font-family='"Liberation Serif", "Times New Roman", serif' font-size="20.5" fill="#000" text-anchor="start" transform="translate(0,489.08) scale(1,1.07) translate(0,-489.08)">0</text>
<text x="1579.2" y="394.2" font-family='"Liberation Serif", "Times New Roman", serif' font-size="20.5" fill="#000" text-anchor="start" transform="translate(0,394.2) scale(1,1.07) translate(0,-394.2)">20</text>
<text x="1579.2" y="299.33" font-family='"Liberation Serif", "Times New Roman", serif' font-size="20.5" fill="#000" text-anchor="start" transform="translate(0,299.33) scale(1,1.07) translate(0,-299.33)">40</text>
<text x="1579.2" y="204.45" font-family='"Liberation Serif", "Times New Roman", serif' font-size="20.5" fill="#000" text-anchor="start" transform="translate(0,204.45) scale(1,1.07) translate(0,-204.45)">60</text>
<text x="1579.2" y="109.58" font-family='"Liberation Serif", "Times New Roman", serif' font-size="20.5" fill="#000" text-anchor="start" transform="translate(0,109.58) scale(1,1.07) translate(0,-109.58)">80</text>
<text x="1579.2" y="14.7" font-family='"Liberation Serif", "Times New Roman", serif' font-size="20.5" fill="#000" text-anchor="start" transform="translate(0,14.7) scale(1,1.07) translate(0,-14.7)">100</text>
<path d="M973.47,400.5 L992.8,358.8 M1002,347.24 L1015.71,336.61 M1024.6,324.92 L1044.56,276.23 M1051.85,263.01 L1068.75,239.29 M1079.24,228.54 L1092.8,218.36 M1105.89,216.74 L1117.6,221.66 M1128.85,230.9 L1146.08,256.5 M1157.92,263.04 L1168.45,263.36 M1182.59,259.73 L1195.23,252.27 M1209.25,247.06 L1220.01,245.14 M1232.14,249.81 L1248.57,271.09 M1260.74,276.05 L1271.41,274.55 M1286.53,273.8 L1297.06,274.2 M1311.48,277.84 L1323.55,283.76 M1337.6,284.72 L1348.89,280.98 M1363.44,276.6 L1374.49,273.6 M1387.12,266.15 L1402.25,250.55 M1415.05,243.9 L1425.76,242.2 M1439.88,237.25 L1452.38,230.15 M1466.55,225.61 L1477.15,224.49 M1491.82,221.02 L1503.32,216.68 M1518.03,214 L1528.56,214" fill="none" stroke="#5a5a5a" stroke-width="1.0"/>
<path d="M965.47,402.6 h9.6 v9.6 h-9.6 z M991.19,347.1 h9.6 v9.6 h-9.6 z M1016.92,327.15 h9.6 v9.6 h-9.6 z M1042.64,264.4 h9.6 v9.6 h-9.6 z M1068.36,228.3 h9.6 v9.6 h-9.6 z M1094.08,209 h9.6 v9.6 h-9.6 z M1119.8,219.8 h9.6 v9.6 h-9.6 z M1145.53,258 h9.6 v9.6 h-9.6 z M1171.25,258.8 h9.6 v9.6 h-9.6 z M1196.97,243.6 h9.6 v9.6 h-9.6 z M1222.69,239 h9.6 v9.6 h-9.6 z M1248.41,272.3 h9.6 v9.6 h-9.6 z M1274.14,268.7 h9.6 v9.6 h-9.6 z M1299.86,269.7 h9.6 v9.6 h-9.6 z M1325.58,282.3 h9.6 v9.6 h-9.6 z M1351.3,273.8 h9.6 v9.6 h-9.6 z M1377.02,266.8 h9.6 v9.6 h-9.6 z M1402.75,240.3 h9.6 v9.6 h-9.6 z M1428.47,236.2 h9.6 v9.6 h-9.6 z M1454.19,221.6 h9.6 v9.6 h-9.6 z M1479.91,218.9 h9.6 v9.6 h-9.6 z M1505.63,209.2 h9.6 v9.6 h-9.6 z M1531.36,209.2 h9.6 v9.6 h-9.6 z" fill="#4f4f4f" stroke="none"/>
<path d="M977.61,468.87 L988.65,471.83 M1002.31,469.58 L1015.4,460.82 M1028.14,452.53 L1041.02,444.37 M1054.96,439.25 L1065.63,437.75 M1080.47,434.63 L1091.57,431.47 M1104.06,423.84 L1119.42,407.36 M1131.68,404.58 L1143.25,409.12 M1152.51,404.62 L1173.87,333.38 M1183.46,327.8 L1194.36,330.3 M1206.76,326.26 L1222.51,308.14 M1234.21,298.85 L1246.5,292.35 M1256.67,282.03 L1275.48,245.27 M1283.61,244.49 L1299.99,265.51 M1307.4,264.41 L1327.64,212.09 M1334.39,198.54 L1352.09,170.06 M1363.26,161.04 L1374.67,156.96 M1389.39,155.08 L1399.98,156.02 M1413.35,161.6 L1427.46,173.5 M1439.69,174.33 L1452.57,166.17 M1466.33,160.13 L1477.37,157.17 M1490.55,160.06 L1504.59,171.74 M1513.98,169.88 L1532.61,134.62" fill="none" stroke="#000" stroke-width="1.0"/>
<path d="M965.87,462.5 h8.8 v8.8 h-8.8 z M991.59,469.4 h8.8 v8.8 h-8.8 z M1017.32,452.2 h8.8 v8.8 h-8.8 z M1043.04,435.9 h8.8 v8.8 h-8.8 z M1068.76,432.3 h8.8 v8.8 h-8.8 z M1094.48,425 h8.8 v8.8 h-8.8 z M1120.2,397.4 h8.8 v8.8 h-8.8 z M1145.93,407.5 h8.8 v8.8 h-8.8 z M1171.65,321.7 h8.8 v8.8 h-8.8 z M1197.37,327.6 h8.8 v8.8 h-8.8 z M1223.09,298 h8.8 v8.8 h-8.8 z M1248.81,284.4 h8.8 v8.8 h-8.8 z M1274.54,234.1 h8.8 v8.8 h-8.8 z M1300.26,267.1 h8.8 v8.8 h-8.8 z M1325.98,200.6 h8.8 v8.8 h-8.8 z M1351.7,159.2 h8.8 v8.8 h-8.8 z M1377.42,150 h8.8 v8.8 h-8.8 z M1403.15,152.3 h8.8 v8.8 h-8.8 z M1428.87,174 h8.8 v8.8 h-8.8 z M1454.59,157.7 h8.8 v8.8 h-8.8 z M1480.31,150.8 h8.8 v8.8 h-8.8 z M1506.03,172.2 h8.8 v8.8 h-8.8 z M1531.76,123.5 h8.8 v8.8 h-8.8 z" fill="none" stroke="#000" stroke-width="1"/>
<path d="M965.87,462.5 L974.67,471.3 M965.87,471.3 L974.67,462.5 M991.59,469.4 L1000.39,478.2 M991.59,478.2 L1000.39,469.4 M1017.32,452.2 L1026.12,461 M1017.32,461 L1026.12,452.2 M1043.04,435.9 L1051.84,444.7 M1043.04,444.7 L1051.84,435.9 M1068.76,432.3 L1077.56,441.1 M1068.76,441.1 L1077.56,432.3 M1094.48,425 L1103.28,433.8 M1094.48,433.8 L1103.28,425 M1120.2,397.4 L1129,406.2 M1120.2,406.2 L1129,397.4 M1145.93,407.5 L1154.73,416.3 M1145.93,416.3 L1154.73,407.5 M1171.65,321.7 L1180.45,330.5 M1171.65,330.5 L1180.45,321.7 M1197.37,327.6 L1206.17,336.4 M1197.37,336.4 L1206.17,327.6 M1223.09,298 L1231.89,306.8 M1223.09,306.8 L1231.89,298 M1248.81,284.4 L1257.61,293.2 M1248.81,293.2 L1257.61,284.4 M1274.54,234.1 L1283.34,242.9 M1274.54,242.9 L1283.34,234.1 M1300.26,267.1 L1309.06,275.9 M1300.26,275.9 L1309.06,267.1 M1325.98,200.6 L1334.78,209.4 M1325.98,209.4 L1334.78,200.6 M1351.7,159.2 L1360.5,168 M1351.7,168 L1360.5,159.2 M1377.42,150 L1386.22,158.8 M1377.42,158.8 L1386.22,150 M1403.15,152.3 L1411.95,161.1 M1403.15,161.1 L1411.95,152.3 M1428.87,174 L1437.67,182.8 M1428.87,182.8 L1437.67,174 M1454.59,157.7 L1463.39,166.5 M1454.59,166.5 L1463.39,157.7 M1480.31,150.8 L1489.11,159.6 M1480.31,159.6 L1489.11,150.8 M1506.03,172.2 L1514.83,181 M1506.03,181 L1514.83,172.2 M1531.76,123.5 L1540.56,132.3 M1531.76,132.3 L1540.56,123.5" fill="none" stroke="#000" stroke-width="1"/>
<path d="M965.87,466.9 H974.67 M970.27,462.5 V471.3 M991.59,473.8 H1000.39 M995.99,469.4 V478.2 M1043.04,440.3 H1051.84 M1047.44,435.9 V444.7 M1068.76,436.7 H1077.56 M1073.16,432.3 V441.1 M1094.48,429.4 H1103.28 M1098.88,425 V433.8 M1120.2,401.8 H1129 M1124.6,397.4 V406.2 M1145.93,411.9 H1154.73 M1150.33,407.5 V416.3 M1171.65,326.1 H1180.45 M1176.05,321.7 V330.5 M1197.37,332 H1206.17 M1201.77,327.6 V336.4 M1223.09,302.4 H1231.89 M1227.49,298 V306.8 M1248.81,288.8 H1257.61 M1253.21,284.4 V293.2 M1274.54,238.5 H1283.34 M1278.94,234.1 V242.9 M1325.98,205 H1334.78 M1330.38,200.6 V209.4 M1351.7,163.6 H1360.5 M1356.1,159.2 V168 M1377.42,154.4 H1386.22 M1381.82,150 V158.8 M1403.15,156.7 H1411.95 M1407.55,152.3 V161.1 M1428.87,178.4 H1437.67 M1433.27,174 V182.8 M1454.59,162.1 H1463.39 M1458.99,157.7 V166.5 M1480.31,155.2 H1489.11 M1484.71,150.8 V159.6 M1531.76,127.9 H1540.56 M1536.16,123.5 V132.3" fill="none" stroke="#000" stroke-width="1.05"/>
<path d="M969.5,456.45 L971.1,456.35 M984.4,455.46 L986,455.34 M998.6,454.37 L1000.2,454.23 M1012.71,452.91 L1014.29,452.69 M1026.91,450.44 L1028.49,450.16 M1041.02,448.06 L1042.58,447.74 M1055.13,444.91 L1056.67,444.49 M1067.85,440.87 L1069.35,440.33 M1080.86,435.81 L1082.34,435.19 M1093.18,430.26 L1094.62,429.54 M1105.41,423.71 L1106.79,422.89 M1116.94,416.15 L1118.26,415.25 M1128.76,407.78 L1130.04,406.82 M1140.27,399 L1141.53,398 M1151.4,389.83 L1152.6,388.77 M1161.44,380.37 L1162.56,379.23 M1171.35,369.68 L1172.45,368.52 M1181.75,359.28 L1182.85,358.12 M1190.87,349.1 L1191.93,347.9 M1199.59,339.01 L1200.61,337.79 M1208.89,327.51 L1209.91,326.29 M1218.4,316.53 L1219.4,315.27 M1236,293.52 L1237,292.28 M1245.18,283.11 L1246.22,281.89 M1254.68,271.81 L1255.72,270.59 M1264.08,261.01 L1265.12,259.79 M1272.79,250.31 L1273.81,249.09 M1282.66,238.79 L1283.74,237.61 M1292.04,229.28 L1293.16,228.12 M1301.84,218.87 L1302.96,217.73 M1312.01,209.15 L1313.19,208.05 M1322.28,199.71 L1323.52,198.69 M1333.65,191.07 L1334.95,190.13 M1345.03,183.04 L1346.37,182.16 M1356.81,175.5 L1358.19,174.7 M1368.69,169.27 L1370.11,168.53 M1372.48,167.25 L1373.92,166.55 M1383.87,161.92 L1385.33,161.28 M1397.35,156.18 L1398.85,155.62 M1410.63,151.81 L1412.17,151.39 M1424.82,148.46 L1426.38,148.14 M1438.91,146.13 L1440.49,145.87 M1452.71,143.81 L1454.29,143.59 M1466.6,142.16 L1468.2,142.04 M1481,141.44 L1482.6,141.36 M1495.3,140.64 L1496.9,140.56 M1509.5,139.93 L1511.1,139.87 M1523.6,139.43 L1525.2,139.37" fill="none" stroke="#000" stroke-width="2.8" stroke-linecap="round"/>
<path d="M969.9,400.5 C970.65,401.38 972.62,404.32 974.4,405.8 C976.18,407.28 978.68,409.13 980.6,409.4 C982.52,409.67 983.98,408.88 985.9,407.4 C987.82,405.92 990.05,403.57 992.1,400.5 C994.15,397.43 996.17,393.22 998.2,389 C1000.23,384.78 1002.27,380.3 1004.3,375.2 C1006.33,370.1 1008.87,362.6 1010.4,358.4 C1011.93,354.2 1012.48,352.82 1013.5,350 C1014.52,347.18 1015.48,344.5 1016.5,341.5 C1017.52,338.5 1018.07,336.83 1019.6,332 C1021.13,327.17 1023.65,318.63 1025.7,312.5 C1027.75,306.37 1029.6,300.88 1031.9,295.2 C1034.2,289.52 1036.95,283.12 1039.5,278.4 C1042.05,273.68 1044.9,270.03 1047.2,266.9 C1049.5,263.77 1050.75,262.08 1053.3,259.6 C1055.85,257.12 1059.18,254.17 1062.5,252 C1065.82,249.83 1069.38,247.88 1073.2,246.6 C1077.02,245.32 1080.82,244.83 1085.4,244.3 C1089.98,243.77 1093.27,243.55 1100.7,243.4 C1108.13,243.25 1096.78,243.4 1130,243.4 C1163.22,243.4 1232.15,243.4 1300,243.4 C1367.85,243.4 1497.58,243.4 1537.1,243.4" fill="none" stroke="#000" stroke-width="2.3" stroke-linejoin="round"/>
<path d="M961.4,45.5 H975.9 M989.9,45.5 H1003.6" stroke="#5a5a5a" stroke-width="1" fill="none"/>
<path d="M977.9,40.7 h9.6 v9.6 h-9.6 z" fill="#4f4f4f" stroke="none"/>
<path d="M961.4,69 H975.9 M989.9,69 H1003.6" stroke="#000" stroke-width="1" fill="none"/>
<path d="M978.4,64.7 h8.6 v8.6 h-8.6 z" fill="none" stroke="#000" stroke-width="1"/>
<path d="M978.4,64.7 L987,73.3 M978.4,73.3 L987,64.7" fill="none" stroke="#000" stroke-width="1"/>
<path d="M961.8,93.9 H1003.8" stroke="#000" stroke-width="2.5" stroke-linecap="round" fill="none"/>
<path d="M961.6,117.3 h1.5 M976,117.3 h1.5 M990.4,117.3 h1.5" stroke="#000" stroke-width="2.8" stroke-linecap="round" fill="none"/>
<text x="1008.9" y="51.6" font-family='"Liberation Sans", Arial, Helvetica, sans-serif' font-size="18.9" fill="#000" text-anchor="start" textLength="97.4" lengthAdjust="spacingAndGlyphs">kW·h g<tspan font-size="12" dy="-7.75">−1</tspan><tspan font-size="18.9" dy="7.75">&#8203;</tspan>TP</text>
<text x="1003.6" y="74.7" font-family='"Liberation Sans", Arial, Helvetica, sans-serif' font-size="18.9" fill="#000" text-anchor="start" textLength="167.6" lengthAdjust="spacingAndGlyphs">Net TP removal rate</text>
<text x="1008.9" y="99.6" font-family='"Liberation Sans", Arial, Helvetica, sans-serif' font-size="18.9" fill="#000" text-anchor="start" textLength="320" lengthAdjust="spacingAndGlyphs">CauseMod fitting curve of kW·h g<tspan font-size="12" dy="-7.75">−1</tspan><tspan font-size="18.9" dy="7.75">&#8203;</tspan> TP</text>
<text x="1008.9" y="122.7" font-family='"Liberation Sans", Arial, Helvetica, sans-serif' font-size="18.9" fill="#000" text-anchor="start" textLength="382.6" lengthAdjust="spacingAndGlyphs">CauseMod fitting curve of net TP removal rate</text>
<text x="1527.5" y="47.2" font-family='"Liberation Sans", Arial, Helvetica, sans-serif' font-size="28.8" fill="#000" text-anchor="start" >b</text>
<text x="1253.7" y="578.3" font-family='"Liberation Sans", Arial, Helvetica, sans-serif' font-size="26.4" fill="#000" text-anchor="middle" >Time(d)</text>
<g transform="translate(898.9,333.4) rotate(-90) scale(1,1.04)">
<text x="0" y="0" font-family='"Liberation Sans", Arial, Helvetica, sans-serif' font-size="28.4" fill="#000" text-anchor="start" >kW·h g<tspan font-size="18.03" dy="-11.64">−1</tspan><tspan font-size="28.4" dy="11.64">&#8203;</tspan> <tspan dx="1.5">TP</tspan></text>
</g>
<g transform="translate(1642.2,392.2) rotate(-90) scale(1,1.04)">
<text x="0" y="0" font-family='"Liberation Sans", Arial, Helvetica, sans-serif' font-size="26" fill="#000" text-anchor="start" >Net TP removal rate(%)</text>
</g>
</g>
</svg>
</body>
</html>
